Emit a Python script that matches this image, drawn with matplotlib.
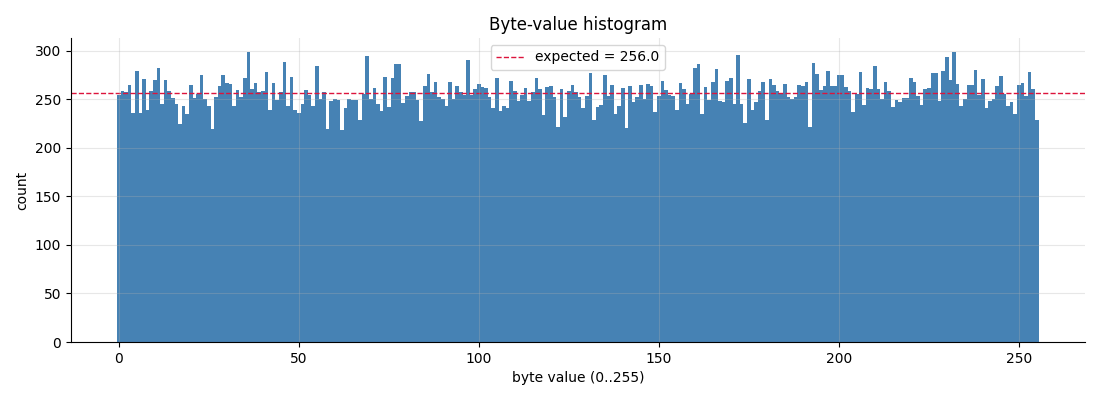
import numpy as np
import matplotlib
matplotlib.use("Agg")
import matplotlib.pyplot as plt

# counts per byte value
byte_values = np.arange(256)
counts = [
    254, 258, 257, 265, 236, 279, 236, 271, 239, 258, 270, 282, 245, 270, 258, 251,
    245, 224, 243, 235, 265, 251, 255, 275, 250, 243, 219, 252, 263, 275, 267, 266,
    243, 259, 252, 272, 298, 260, 267, 257, 258, 278, 239, 267, 249, 257, 288, 243,
    273, 239, 236, 245, 259, 254, 243, 284, 250, 257, 219, 248, 250, 249, 218, 241,
    250, 249, 249, 228, 255, 294, 250, 261, 245, 238, 273, 242, 272, 286, 286, 246,
    253, 257, 257, 249, 227, 263, 276, 257, 268, 252, 250, 243, 268, 250, 264, 257,
    254, 290, 254, 260, 266, 262, 261, 252, 241, 272, 238, 243, 241, 269, 258, 248,
    254, 261, 248, 257, 272, 260, 234, 262, 264, 252, 221, 260, 232, 258, 265, 257,
    252, 241, 253, 277, 228, 242, 244, 275, 253, 265, 235, 243, 261, 220, 264, 247,
    252, 265, 250, 266, 263, 237, 253, 269, 259, 254, 253, 239, 267, 260, 245, 255,
    282, 286, 235, 262, 249, 268, 281, 248, 247, 269, 272, 245, 295, 245, 225, 271,
    239, 247, 258, 268, 229, 271, 265, 258, 255, 266, 252, 250, 252, 265, 263, 268,
    221, 287, 276, 259, 263, 279, 263, 263, 275, 275, 262, 258, 237, 255, 278, 244,
    261, 260, 284, 260, 250, 268, 258, 242, 249, 247, 251, 251, 272, 268, 253, 244,
    260, 261, 277, 277, 248, 279, 293, 270, 298, 266, 243, 250, 265, 265, 280, 254,
    271, 241, 248, 250, 264, 274, 255, 243, 247, 235, 265, 267, 253, 278, 260, 228,
]
expected = 256.0

fig, ax = plt.subplots(figsize=(11, 4), dpi=100)
ax.bar(byte_values, counts, width=1.0, color="steelblue")
# expected uniform count
ax.axhline(expected, color="crimson", linestyle="--", linewidth=1,
           label=f"expected = {expected:.1f}")

ax.grid(True, alpha=0.3)
ax.set_axisbelow(False)
ax.spines["top"].set_visible(False)
ax.spines["right"].set_visible(False)

ax.set_title("Byte-value histogram")
ax.set_xlabel("byte value (0..255)")
ax.set_ylabel("count")
ax.legend(loc="upper center")

fig.subplots_adjust(left=0.0645, right=0.986, top=0.905, bottom=0.145)
fig.savefig("out.png")
